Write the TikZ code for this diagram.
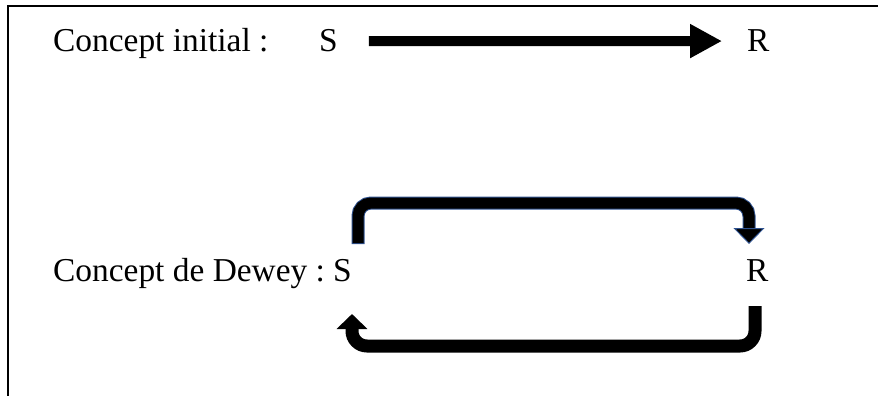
\documentclass[tikz,border=0pt]{standalone}
\usepackage{fontspec}
\setmainfont{Liberation Serif}
\usetikzlibrary{arrows.meta}
\definecolor{outlineblue}{RGB}{47,82,143}
\begin{document}
\begin{tikzpicture}[x=1pt,y=-1pt,font=\fontsize{33.4}{40}\selectfont,
  every node/.style={inner sep=0pt,anchor=base west},
  bigarrow/.style={line width=10pt,-{Triangle[length=32pt,width=32pt]}},
  loopline/.style={line width=13pt,rounded corners=15pt,-{Triangle[length=15pt,width=30pt]}}]
\useasboundingbox (0,0) rectangle (878,396);

% frame
\draw[line width=2pt] (8,396) -- (8,6) -- (878,6);

% concept initial
\node (ci) at (53,52) {Concept initial :};
\node (s1) at (319,52) {S};
\node (r1) at (747,52) {R};
\draw[bigarrow,shorten <=31pt,shorten >=25pt] (s1.east) -- (r1.west);

% concept de Dewey
\node (cd) at (53,281) {Concept de Dewey :};
\node (s2) at (333,281) {S};
\node (r2) at (746,281) {R};

\coordinate (u0) at (358,243);
\coordinate (u1) at (749,244);
\draw[line width=13pt,outlineblue,rounded corners=13pt,shorten >=15pt,shorten <=-1pt] (u0) -- (358,203) -- (749,203) -- (u1);
\draw[line width=11pt,rounded corners=13pt,-{Triangle[length=16pt,width=31pt,fill=black,color=outlineblue,line width=1pt]}] (u0) -- (358,203) -- (749,203) -- (u1);

\coordinate (l0) at (755,306);
\coordinate (l1) at (352,314);
\draw[loopline] (l0) -- (755,346) -- (352,346) -- (l1);

\end{tikzpicture}
\end{document}
